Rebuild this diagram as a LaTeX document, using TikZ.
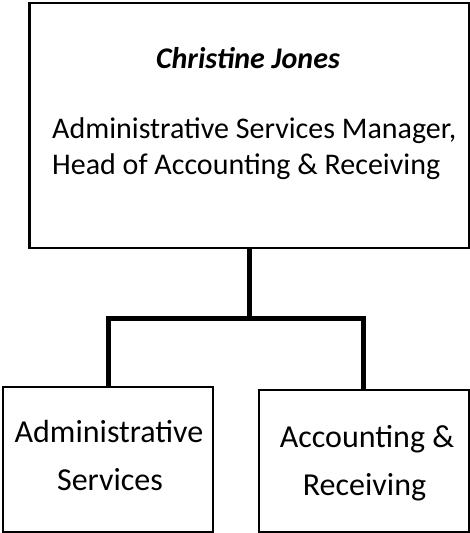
\documentclass[tikz,border=0pt]{standalone}
\usepackage{fontspec}
\setmainfont{Carlito}
\begin{document}
\begin{tikzpicture}[x=1pt,y=-1pt,
  box/.style={draw=black,line width=2.2pt,rectangle,inner sep=0pt,fill=white},
  conn/.style={draw=black,line width=5pt,line join=miter},
  toptxt/.style={inner sep=0pt,font=\fontsize{30}{36}\selectfont},
  bottxt/.style={inner sep=0pt,font=\fontsize{32}{38}\selectfont}]
\useasboundingbox[fill=white] (0,0) rectangle (470,533);
% boxes
\node[box,minimum width=439.2pt,minimum height=245pt] (top) at (249.1,125.5) {};
\node[box,minimum width=210pt,minimum height=145pt] (left) at (108,459.5) {};
\node[box,minimum width=209.7pt,minimum height=142pt] (right) at (363.9,461) {};
% connectors
\coordinate (j) at (249.1,318.5);
\draw[conn] (top.south) -- (j);
\draw[conn] (left.north) |- (j) -| (right.north);
% texts
\node[toptxt,anchor=base] (name) at (248,68) {\bfseries\itshape Christine Jones};
\node[toptxt,anchor=base west] (t1) at (52,138) {Administrative Services Manager,};
\node[toptxt,anchor=base west] (t2) at (52,174.5) {Head of Accounting \& Receiving};
\node[bottxt,anchor=base] (l1) at (109,442.7) {Administrative};
\node[bottxt,anchor=base] (l2) at (110,490) {Services};
\node[bottxt,anchor=base] (r1) at (367,447.5) {Accounting \&};
\node[bottxt,anchor=base] (r2) at (364.5,495) {Receiving};
\end{tikzpicture}
\end{document}
